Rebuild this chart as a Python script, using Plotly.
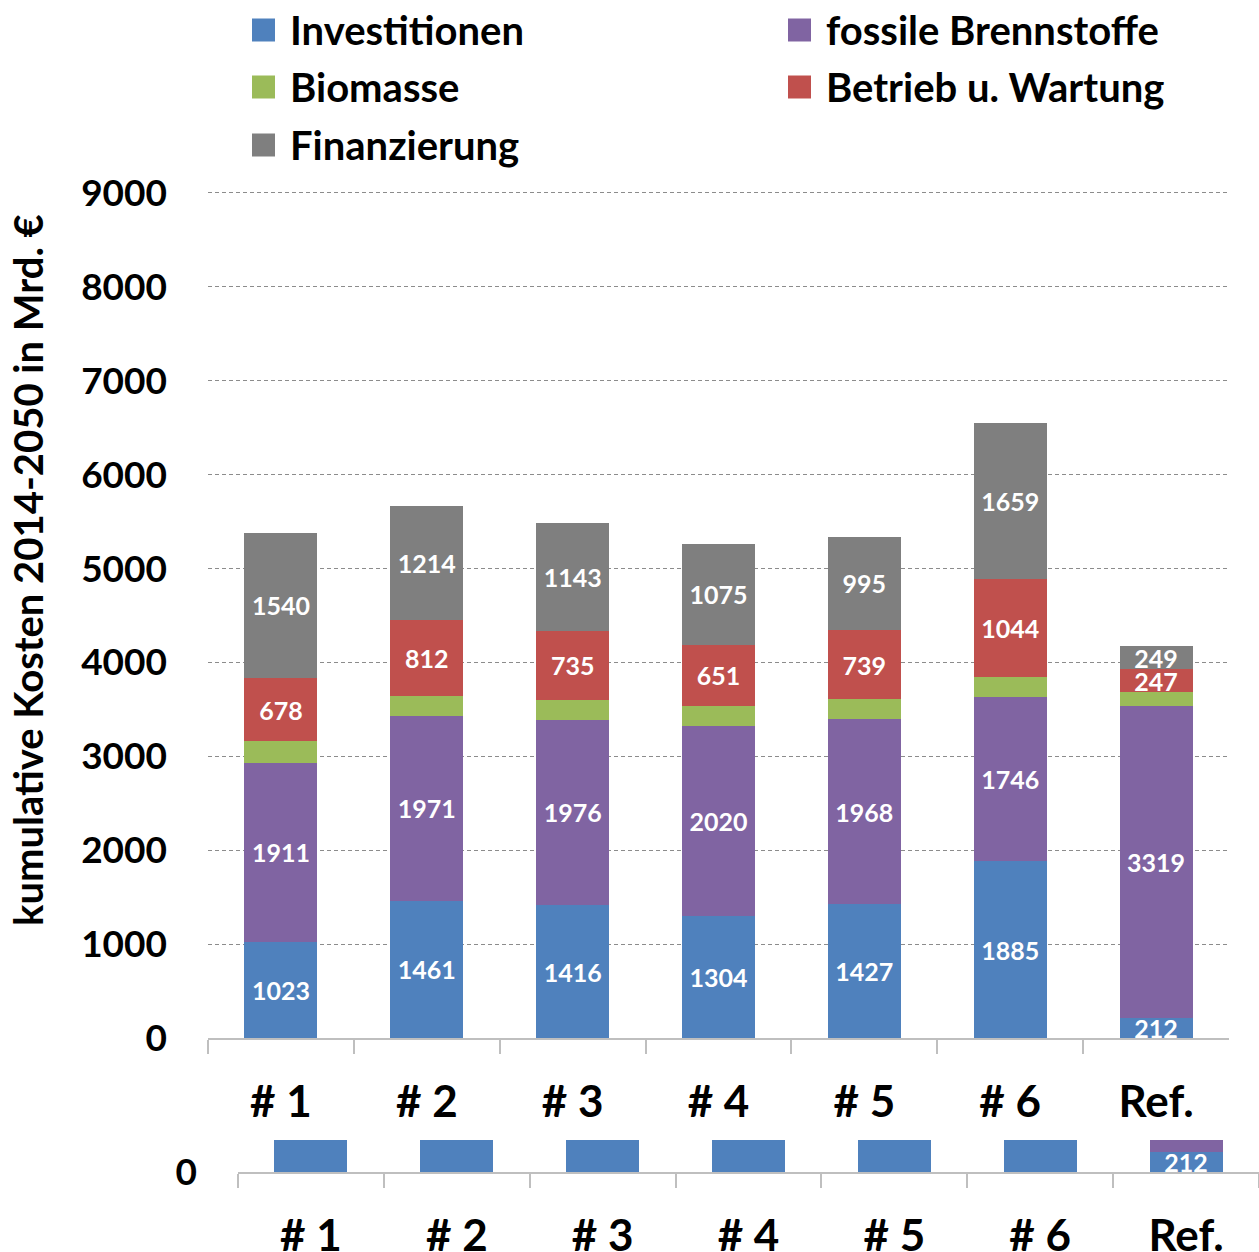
import plotly.graph_objects as go

# Scenario categories and cumulative cost components (Mrd. €, 2014-2050)
categories = ["# 1", "# 2", "# 3", "# 4", "# 5", "# 6", "Ref."]
investitionen = [1023, 1461, 1416, 1304, 1427, 1885, 212]
fossile = [1911, 1971, 1976, 2020, 1968, 1746, 3319]
biomasse = [225, 210, 210, 215, 212, 215, 150]
betrieb = [678, 812, 735, 651, 739, 1044, 247]
finanzierung = [1540, 1214, 1143, 1075, 995, 1659, 249]
y_ticks = list(range(0, 9001, 1000))

series = [
    ("Investitionen", investitionen, "#4F81BD", True),
    ("fossile Brennstoffe", fossile, "#8064A2", True),
    ("Biomasse", biomasse, "#9BBB59", False),
    ("Betrieb u. Wartung", betrieb, "#C0504D", True),
    ("Finanzierung", finanzierung, "#7F7F7F", True),
]

W, H = 1259, 1252
FONT = "Lato"


def px(x):
    return x / W


def py(y):
    return 1 - y / H


fig = go.Figure()

for axes in (("x", "y"), ("x2", "y2")):
    for name, vals, color, labelled in series:
        fig.add_trace(go.Bar(
            x=categories, y=vals, name=name,
            xaxis=axes[0], yaxis=axes[1],
            marker=dict(color=color, line=dict(width=0)),
            text=[str(v) for v in vals] if labelled else None,
            textposition="inside", insidetextanchor="middle",
            textangle=0, constraintext="none",
            textfont=dict(family=FONT, size=25, color="white", weight="bold"),
            cliponaxis=True, showlegend=False, hoverinfo="skip",
        ))

tick_font = dict(family=FONT, size=37, color="#000000", weight="bold")
cat_font = dict(family=FONT, size=44, color="#000000", weight="bold")

cat_axis = dict(
    type="category", showline=True, linecolor="#BFBFBF", linewidth=1.5,
    ticks="outside", tickson="boundaries", ticklen=14, tickcolor="#BFBFBF",
    tickwidth=1.5, tickfont=cat_font, ticklabelstandoff=24, showgrid=False,
    automargin=False,
)

# the value range runs a little past the top tick so its gridline is drawn
Y_TOP = 9060
PX_PER_UNIT = (1038 - 193) / 9000

fig.update_layout(
    width=W, height=H,
    margin=dict(l=0, r=0, t=0, b=0, pad=0),
    paper_bgcolor="white", plot_bgcolor="white",
    barmode="stack", bargap=0.5,
    xaxis=dict(domain=[px(208), px(1229)], anchor="y", **cat_axis),
    yaxis=dict(
        domain=[py(1038), py(1038 - Y_TOP * PX_PER_UNIT)], anchor="x",
        range=[0, Y_TOP], tickvals=y_ticks,
        showgrid=True, gridcolor="#8C8C8C", gridwidth=1.3, griddash="4px,3px",
        zeroline=False, showline=False, ticks="", tickfont=tick_font,
        ticklabelstandoff=40, automargin=False,
    ),
    xaxis2=dict(domain=[px(238), px(1259)], anchor="y2", **cat_axis),
    yaxis2=dict(
        domain=[py(1172), py(1140)], anchor="x2",
        range=[0, 341], tickvals=[0], showgrid=False, zeroline=False,
        showline=False, ticks="", tickfont=tick_font, ticklabelstandoff=40,
        automargin=False,
    ),
)

# Axis title
fig.add_annotation(
    x=px(28), y=py(570), xref="paper", yref="paper",
    text="kumulative Kosten 2014-2050 in Mrd. €", textangle=-90,
    showarrow=False, xanchor="center", yanchor="middle",
    font=dict(family=FONT, size=40, color="#000000", weight="bold"),
)

# Two-column legend with square swatches
legend_slots = [
    (0, 252, 30), (1, 788, 30),
    (2, 252, 87), (3, 788, 87),
    (4, 252, 145),
]
for idx, lx, ly in legend_slots:
    name, _, color, _ = series[idx]
    fig.add_shape(
        type="rect", xref="paper", yref="paper",
        x0=px(lx), x1=px(lx + 23), y0=py(ly + 11.5), y1=py(ly - 11.5),
        fillcolor=color, line=dict(width=0),
    )
    fig.add_annotation(
        x=px(lx + 36), y=py(ly), xref="paper", yref="paper",
        text=name, showarrow=False, xanchor="left", yanchor="middle",
        font=dict(family=FONT, size=40, color="#000000", weight="bold"),
    )

fig.write_html("out.html")
